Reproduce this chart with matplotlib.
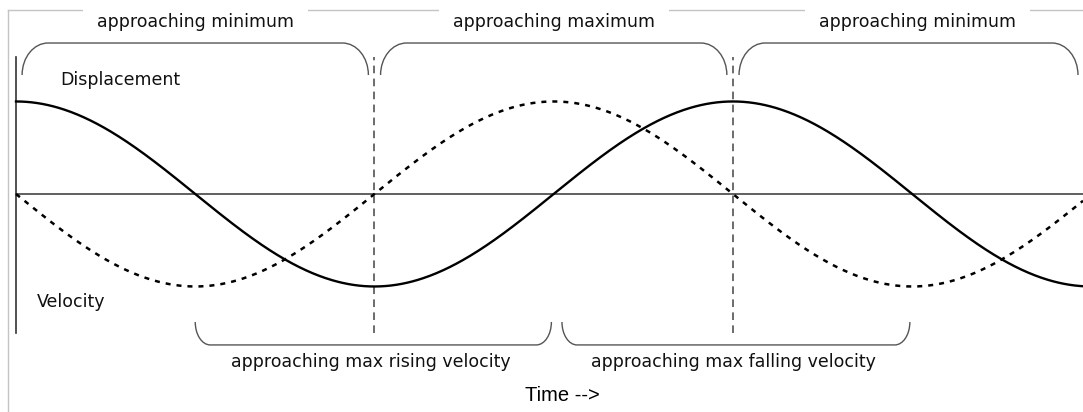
import numpy as np
import matplotlib
matplotlib.use("Agg")
import matplotlib.pyplot as plt
from matplotlib.path import Path
from matplotlib.patches import PathPatch

# time is measured in quarter periods, amplitude is 1
period = 4.0
amplitude = 1.0
t_end = 5.953

# phase labels above / below the axis: (start, end, text)
top_spans = [(0.0, 2.0), (2.0, 4.0), (4.0, 6.0)]
top_labels = ["approaching minimum", "approaching maximum", "approaching minimum"]
bottom_spans = [(1.0, 3.0), (3.0, 5.0)]
bottom_labels = ["approaching max rising velocity", "approaching max falling velocity"]
turn_points = [2.0, 4.0]

FONT = "DejaVu Sans"
FS = 12.5
K = 0.5523


def bracket(ax, x0, x1, y_end, y_bar, rx):
    # rounded bracket: ends at y_end, bar at y_bar
    h = y_bar - y_end
    verts = [(x0, y_end), (x0, y_end + K * h), (x0 + rx * (1 - K), y_bar), (x0 + rx, y_bar),
             (x1 - rx, y_bar),
             (x1 - rx * (1 - K), y_bar), (x1, y_end + K * h), (x1, y_end)]
    codes = [Path.MOVETO, Path.CURVE4, Path.CURVE4, Path.CURVE4,
             Path.LINETO,
             Path.CURVE4, Path.CURVE4, Path.CURVE4]
    ax.add_patch(PathPatch(Path(verts, codes), fill=False, ec="#555555", lw=1.0, zorder=4))


fig = plt.figure(figsize=(10.83, 4.12), dpi=100)
ax = fig.add_axes([0, 0, 1, 1])
ax.set_xlim(-0.0893, t_end)
ax.set_ylim(-2.357, 2.097)
ax.axis("off")

# outer frame (top and left)
ax.plot([-0.0446, t_end], [1.989, 1.989], color="#c4c4c4", lw=1.0, zorder=1)
ax.plot([-0.0446, -0.0446], [1.989, -2.357], color="#c4c4c4", lw=1.0, zorder=1)

# axes
ax.plot([0, 0], [-1.50, 1.48], color="#333333", lw=1.2, zorder=2)
ax.plot([0, t_end], [0, 0], color="#444444", lw=1.2, zorder=2)
for tp in turn_points:
    ax.plot([tp, tp], [-1.50, 1.48], color="#444444", lw=1.1, dashes=(5, 3.5), zorder=2)

t = np.linspace(0, t_end, 800)
w = 2 * np.pi / period
ax.plot(t, amplitude * np.cos(w * t), color="black", lw=1.7, zorder=3)
ax.plot(t, -amplitude * np.sin(w * t), color="black", lw=1.8, dashes=(2.0, 2.4), zorder=3)

# top brackets
gap = 0.034
for (a, b), lab in zip(top_spans, top_labels):
    x0 = a + gap
    x1 = min(b - gap, 5.925)
    bracket(ax, x0, x1, 1.286, 1.632, 0.145)
    ax.text((a + b) / 2 + (0.03 if a == 4.0 else 0.0), 1.86, lab, ha="center", va="center",
            family=FONT, fontsize=FS, color="#111111", zorder=3,
            bbox=dict(boxstyle="square,pad=0.8", fc="white", ec="none"))

# bottom brackets
for (a, b), lab in zip(bottom_spans, bottom_labels):
    x0 = a + (0.0 if a == 1.0 else 0.046)
    x1 = b - 0.013
    bracket(ax, x0, x1, -1.384, -1.632, 0.084)
    ax.text((a + b) / 2 - (0.02 if a == 1.0 else 0.0), -1.814, lab, ha="center", va="center",
            family=FONT, fontsize=FS, color="#111111", zorder=3)

ax.text(0.245, 1.232, "Displacement", ha="left", va="center",
        family=FONT, fontsize=FS, color="#111111")
ax.text(0.117, -1.168, "Velocity", ha="left", va="center",
        family=FONT, fontsize=FS, color="#111111")
ax.text(3.046, -2.184, "Time -->", ha="center", va="center",
        family="Liberation Sans", fontsize=14.5, color="black")

fig.savefig("out.png", dpi=100)
